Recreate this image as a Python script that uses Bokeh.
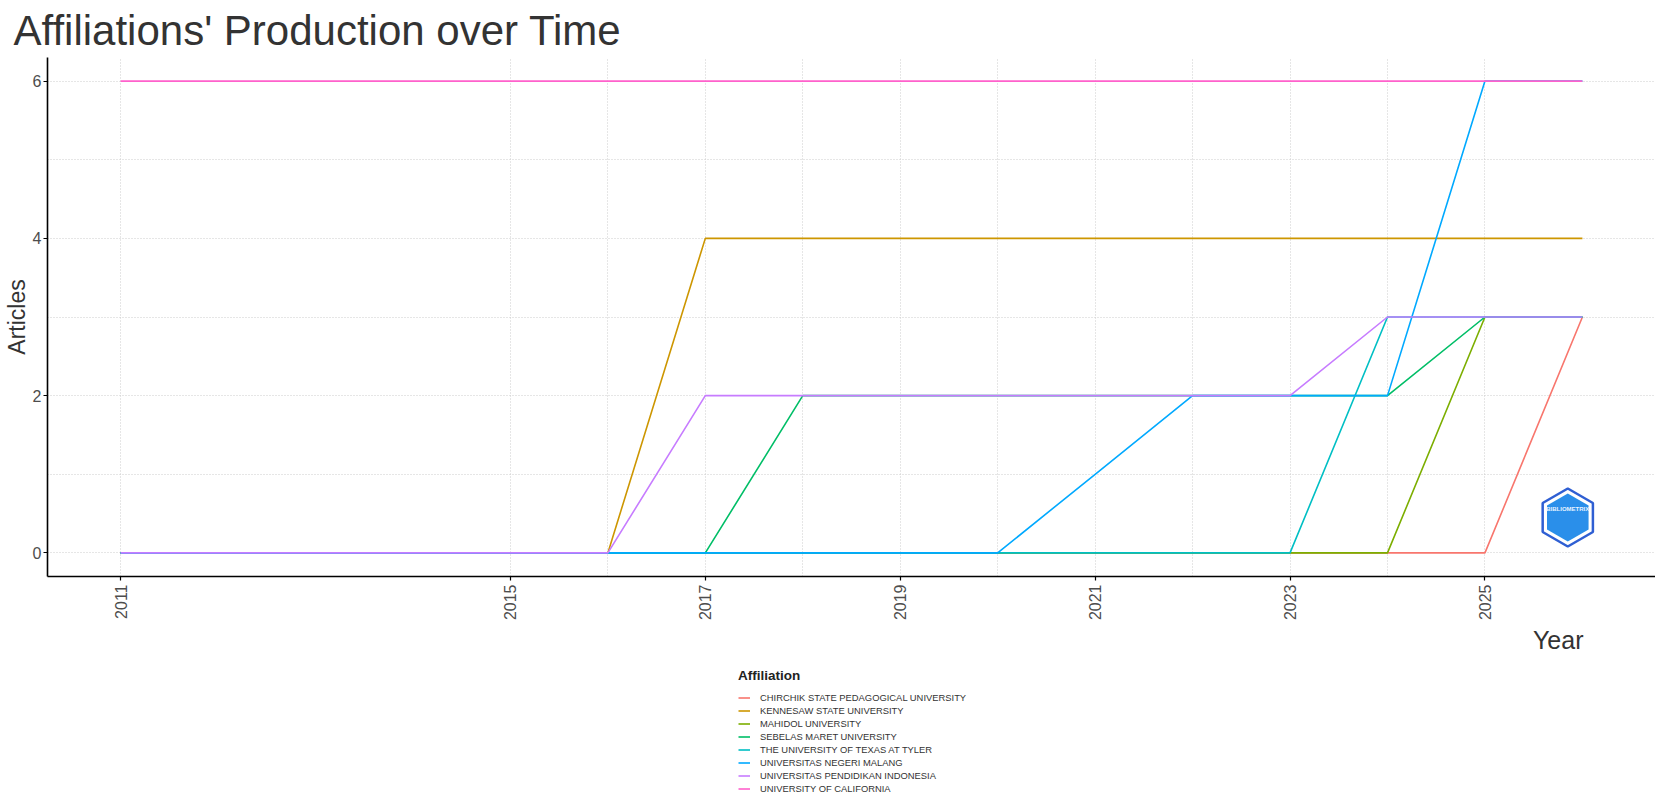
import math
from bokeh.plotting import figure
from bokeh.layouts import column
from bokeh.models import (Range1d, FixedTicker, Legend, LegendItem, ColumnDataSource, Title)
from bokeh.core.properties import value
from bokeh.embed import file_html
from bokeh.resources import INLINE

# ---------------- data ----------------
years = [2011, 2012, 2013, 2014, 2015, 2016, 2017, 2018,
         2019, 2020, 2021, 2022, 2023, 2024, 2025, 2026]

affiliations = [
    "CHIRCHIK STATE PEDAGOGICAL UNIVERSITY",
    "KENNESAW STATE UNIVERSITY",
    "MAHIDOL UNIVERSITY",
    "SEBELAS MARET UNIVERSITY",
    "THE UNIVERSITY OF TEXAS AT TYLER",
    "UNIVERSITAS NEGERI MALANG",
    "UNIVERSITAS PENDIDIKAN INDONESIA",
    "UNIVERSITY OF CALIFORNIA",
]

chirchik = [0, 0, 0, 0, 0, 0, 0, 0, 0, 0, 0, 0, 0, 0, 0, 3]
kennesaw = [0, 0, 0, 0, 0, 0, 4, 4, 4, 4, 4, 4, 4, 4, 4, 4]
mahidol  = [0, 0, 0, 0, 0, 0, 0, 0, 0, 0, 0, 0, 0, 0, 3, 3]
sebelas  = [0, 0, 0, 0, 0, 0, 0, 2, 2, 2, 2, 2, 2, 2, 3, 3]
tyler    = [0, 0, 0, 0, 0, 0, 0, 0, 0, 0, 0, 0, 0, 3, 3, 3]
malang   = [0, 0, 0, 0, 0, 0, 0, 0, 0, 0, 1, 2, 2, 2, 6, 6]
upi      = [0, 0, 0, 0, 0, 0, 2, 2, 2, 2, 2, 2, 2, 3, 3, 3]
ucal     = [6, 6, 6, 6, 6, 6, 6, 6, 6, 6, 6, 6, 6, 6, 6, 6]

series = [chirchik, kennesaw, mahidol, sebelas, tyler, malang, upi, ucal]
colors = ["#F8766D", "#CD9600", "#7CAE00", "#00BE67",
          "#00BFC4", "#00A9FF", "#C77CFF", "#FF61CC"]

x_major = [2011, 2015, 2017, 2019, 2021, 2023, 2025]
x_minor = [2016, 2018, 2020, 2022, 2024]
y_major = [0, 2, 4, 6]
y_minor = [1, 3, 5]

# ---------------- main figure ----------------
FONT = "Liberation Sans"
W = 1655
p = figure(width=W, height=658, output_backend="svg", toolbar_location=None,
           x_range=Range1d(2010.25, 2026.75), y_range=Range1d(-0.3, 6.3),
           min_border_left=0, min_border_right=0, min_border_top=0, min_border_bottom=82)
p.outline_line_color = None
p.background_fill_color = "white"

p.title.text = "Affiliations' Production over Time"
p.title.text_font = FONT
p.title.text_font_size = "42px"
p.title.text_font_style = "normal"
p.title.text_color = "#333333"
p.title.offset = -34
p.title.standoff = 8

p.xaxis.ticker = FixedTicker(ticks=x_major, minor_ticks=x_minor)
p.yaxis.ticker = FixedTicker(ticks=y_major, minor_ticks=y_minor)
for ax in (p.xaxis[0], p.yaxis[0]):
    ax.axis_line_color = "black"
    ax.axis_line_width = 1.6
    ax.major_tick_line_color = "black"
    ax.major_tick_line_width = 1.2
    ax.major_tick_out = 4
    ax.major_tick_in = 0
    ax.minor_tick_line_color = None
    ax.major_label_text_font = FONT
    ax.major_label_text_font_size = "16px"
    ax.major_label_text_color = "#4D4D4D"
    ax.axis_label_text_font = FONT
    ax.axis_label_text_font_size = "23px"
    ax.axis_label_text_font_style = "normal"
    ax.axis_label_text_color = "#333333"

p.xaxis.major_label_orientation = math.pi / 2
p.xaxis.major_label_standoff = 4
p.yaxis.axis_label = "Articles"
p.yaxis.major_label_standoff = 2
p.yaxis.axis_label_standoff = 0

# x-axis title, right side under the axis as in the reference
xtitle = Title(text="Year", align="right", offset=72, standoff=0,
               text_font=FONT, text_font_size="25px", text_font_style="normal",
               text_color="#333333")
p.add_layout(xtitle, "below")

for g in (p.xgrid[0], p.ygrid[0]):
    g.grid_line_color = "#cccccc"
    g.grid_line_dash = "1 2"
    g.grid_line_width = 1
    g.minor_grid_line_color = "#cccccc"
    g.minor_grid_line_dash = "1 2"
    g.minor_grid_line_width = 1

for name, vals, col in zip(affiliations, series, colors):
    src = ColumnDataSource(dict(x=years, y=vals))
    p.line("x", "y", source=src, line_color=col, line_width=1.6)

# logo (decorative)
logo_x = [2025.85]
logo_y = [0.45]
p.scatter(logo_x, logo_y, marker="hex", size=58, angle=math.pi / 2,
          fill_color="white", line_color="#2f5fd3", line_width=2.5)
p.scatter(logo_x, logo_y, marker="hex", size=48, angle=math.pi / 2,
          fill_color="#2a8fea", line_color=None)
p.text(logo_x, logo_y, text=["BIBLIOMETRIX"], text_font=value(FONT),
       text_font_size="6px", text_font_style="bold", text_color="#e6f3ff",
       text_align="center", text_baseline="middle", y_offset=-9)

# ---------------- legend figure ----------------
q = figure(width=W, height=137, output_backend="svg", toolbar_location=None,
           x_range=Range1d(0, 1), y_range=Range1d(0, 1),
           x_axis_location=None, y_axis_location=None,
           min_border_left=0, min_border_right=0, min_border_top=0, min_border_bottom=0)
q.grid.visible = False
q.outline_line_color = None

items = []
for name, vals, col in zip(affiliations, series, colors):
    # same series drawn off-view; only used to give the legend its key glyphs
    r = q.line(x=years, y=vals, line_color=col, line_width=1.6)
    items.append(LegendItem(label=name, renderers=[r]))

legend = Legend(items=items, location=(691, 0), orientation="vertical")
legend.title = "Affiliation"
legend.title_text_font = FONT
legend.title_text_font_size = "13.5px"
legend.title_text_font_style = "bold"
legend.title_text_color = "#222222"
legend.title_standoff = 8
legend.label_text_font = FONT
legend.label_text_font_size = "9.4px"
legend.label_text_color = "#333333"
legend.label_height = 13
legend.glyph_height = 13
legend.glyph_width = 12
legend.label_standoff = 10
legend.spacing = 0
legend.padding = 0
legend.margin = 0
legend.border_line_color = None
legend.background_fill_alpha = 0
q.add_layout(legend, "center")

layout = column(p, q, spacing=0)
open("out.html", "w").write(file_html(layout, INLINE))
